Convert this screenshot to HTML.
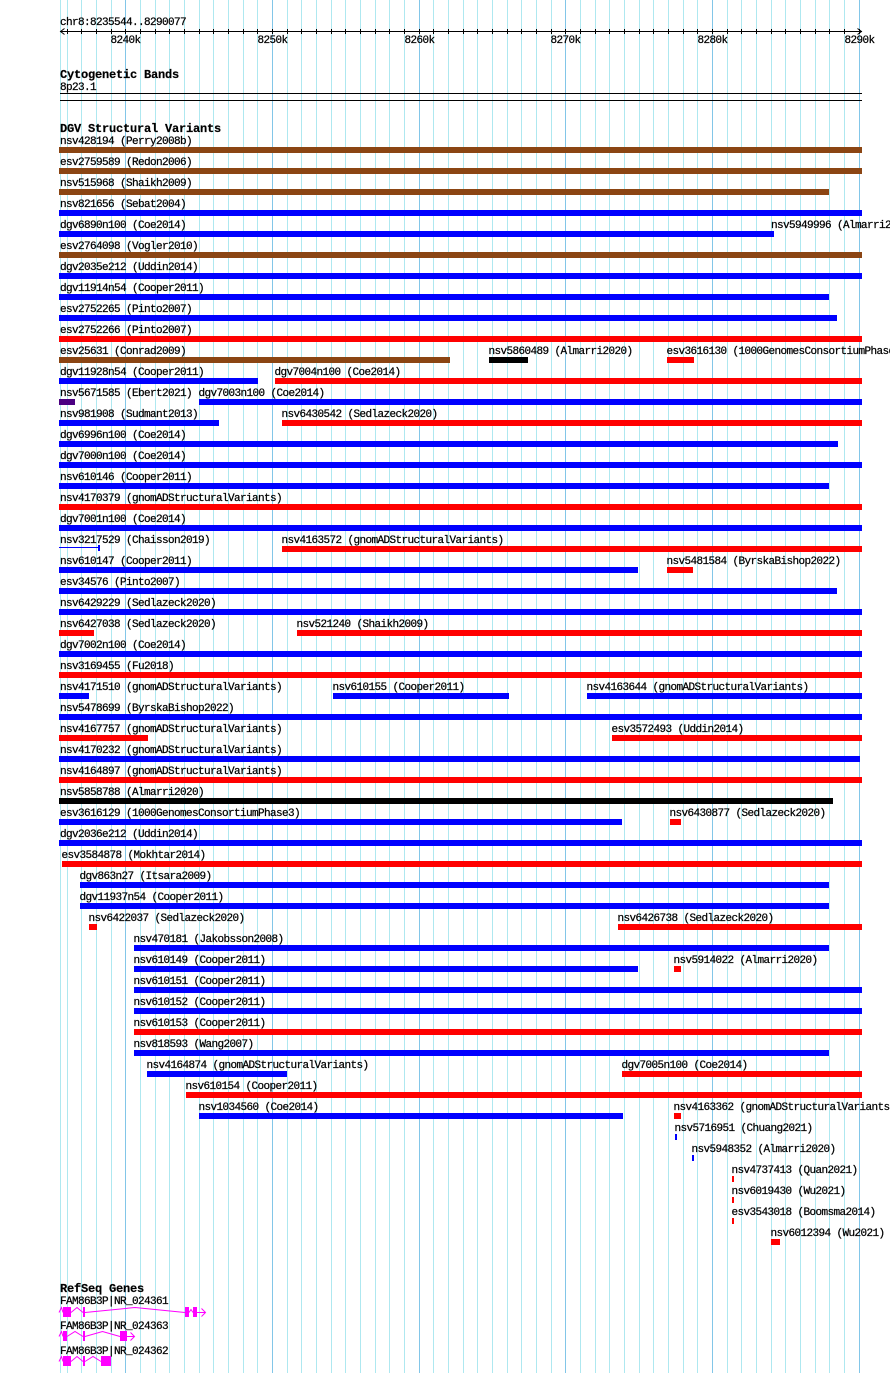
<!DOCTYPE html>
<html>
<head>
<meta charset="utf-8">
<style>
html,body{margin:0;padding:0;background:#fff;}
svg{display:block;}
.t{font-family:"Liberation Mono",monospace;font-size:11px;letter-spacing:-0.6px;fill:#000;stroke:#000;stroke-width:0.25px;}
.b{font-family:"Liberation Mono",monospace;font-size:12px;font-weight:bold;letter-spacing:-0.2px;fill:#000;stroke:#000;stroke-width:0.2px;}
</style>
</head>
<body>
<svg width="890" height="1373" viewBox="0 0 890 1373" xmlns="http://www.w3.org/2000/svg">
<rect x="0" y="0" width="890" height="1373" fill="#fff"/>
<!-- grid -->
<g shape-rendering="crispEdges" fill="#aee8f0">
<rect x="60" y="0" width="1" height="1373"/>
<rect x="67" y="0" width="1" height="1373"/>
<rect x="81" y="0" width="1" height="1373"/>
<rect x="96" y="0" width="1" height="1373"/>
<rect x="111" y="0" width="1" height="1373"/>
<rect x="140" y="0" width="1" height="1373"/>
<rect x="155" y="0" width="1" height="1373"/>
<rect x="169" y="0" width="1" height="1373"/>
<rect x="184" y="0" width="1" height="1373"/>
<rect x="199" y="0" width="1" height="1373"/>
<rect x="213" y="0" width="1" height="1373"/>
<rect x="228" y="0" width="1" height="1373"/>
<rect x="243" y="0" width="1" height="1373"/>
<rect x="257" y="0" width="1" height="1373"/>
<rect x="287" y="0" width="1" height="1373"/>
<rect x="301" y="0" width="1" height="1373"/>
<rect x="316" y="0" width="1" height="1373"/>
<rect x="331" y="0" width="1" height="1373"/>
<rect x="345" y="0" width="1" height="1373"/>
<rect x="360" y="0" width="1" height="1373"/>
<rect x="375" y="0" width="1" height="1373"/>
<rect x="389" y="0" width="1" height="1373"/>
<rect x="404" y="0" width="1" height="1373"/>
<rect x="433" y="0" width="1" height="1373"/>
<rect x="448" y="0" width="1" height="1373"/>
<rect x="463" y="0" width="1" height="1373"/>
<rect x="477" y="0" width="1" height="1373"/>
<rect x="492" y="0" width="1" height="1373"/>
<rect x="507" y="0" width="1" height="1373"/>
<rect x="521" y="0" width="1" height="1373"/>
<rect x="536" y="0" width="1" height="1373"/>
<rect x="551" y="0" width="1" height="1373"/>
<rect x="580" y="0" width="1" height="1373"/>
<rect x="595" y="0" width="1" height="1373"/>
<rect x="609" y="0" width="1" height="1373"/>
<rect x="624" y="0" width="1" height="1373"/>
<rect x="639" y="0" width="1" height="1373"/>
<rect x="653" y="0" width="1" height="1373"/>
<rect x="668" y="0" width="1" height="1373"/>
<rect x="683" y="0" width="1" height="1373"/>
<rect x="697" y="0" width="1" height="1373"/>
<rect x="727" y="0" width="1" height="1373"/>
<rect x="741" y="0" width="1" height="1373"/>
<rect x="756" y="0" width="1" height="1373"/>
<rect x="771" y="0" width="1" height="1373"/>
<rect x="785" y="0" width="1" height="1373"/>
<rect x="800" y="0" width="1" height="1373"/>
<rect x="815" y="0" width="1" height="1373"/>
<rect x="829" y="0" width="1" height="1373"/>
<rect x="844" y="0" width="1" height="1373"/>
</g>
<g shape-rendering="crispEdges" fill="#82c6e8">
<rect x="125" y="0" width="1" height="1373"/>
<rect x="272" y="0" width="1" height="1373"/>
<rect x="419" y="0" width="1" height="1373"/>
<rect x="565" y="0" width="1" height="1373"/>
<rect x="712" y="0" width="1" height="1373"/>
<rect x="859" y="0" width="1" height="1373"/>
</g>

<!-- ruler -->
<text class="t" x="60" y="25">chr8:8235544..8290077</text>
<g shape-rendering="crispEdges" fill="#000">
<rect x="60" y="31" width="802" height="1"/>
<rect x="67" y="29" width="1" height="5"/>
<rect x="81" y="29" width="1" height="5"/>
<rect x="96" y="29" width="1" height="5"/>
<rect x="111" y="29" width="1" height="5"/>
<rect x="125" y="29" width="1" height="5"/>
<rect x="140" y="29" width="1" height="5"/>
<rect x="155" y="29" width="1" height="5"/>
<rect x="169" y="29" width="1" height="5"/>
<rect x="184" y="29" width="1" height="5"/>
<rect x="199" y="29" width="1" height="5"/>
<rect x="213" y="29" width="1" height="5"/>
<rect x="228" y="29" width="1" height="5"/>
<rect x="243" y="29" width="1" height="5"/>
<rect x="257" y="29" width="1" height="5"/>
<rect x="272" y="29" width="1" height="5"/>
<rect x="287" y="29" width="1" height="5"/>
<rect x="301" y="29" width="1" height="5"/>
<rect x="316" y="29" width="1" height="5"/>
<rect x="331" y="29" width="1" height="5"/>
<rect x="345" y="29" width="1" height="5"/>
<rect x="360" y="29" width="1" height="5"/>
<rect x="375" y="29" width="1" height="5"/>
<rect x="389" y="29" width="1" height="5"/>
<rect x="404" y="29" width="1" height="5"/>
<rect x="419" y="29" width="1" height="5"/>
<rect x="433" y="29" width="1" height="5"/>
<rect x="448" y="29" width="1" height="5"/>
<rect x="463" y="29" width="1" height="5"/>
<rect x="477" y="29" width="1" height="5"/>
<rect x="492" y="29" width="1" height="5"/>
<rect x="507" y="29" width="1" height="5"/>
<rect x="521" y="29" width="1" height="5"/>
<rect x="536" y="29" width="1" height="5"/>
<rect x="551" y="29" width="1" height="5"/>
<rect x="565" y="29" width="1" height="5"/>
<rect x="580" y="29" width="1" height="5"/>
<rect x="595" y="29" width="1" height="5"/>
<rect x="609" y="29" width="1" height="5"/>
<rect x="624" y="29" width="1" height="5"/>
<rect x="639" y="29" width="1" height="5"/>
<rect x="653" y="29" width="1" height="5"/>
<rect x="668" y="29" width="1" height="5"/>
<rect x="683" y="29" width="1" height="5"/>
<rect x="697" y="29" width="1" height="5"/>
<rect x="712" y="29" width="1" height="5"/>
<rect x="727" y="29" width="1" height="5"/>
<rect x="741" y="29" width="1" height="5"/>
<rect x="756" y="29" width="1" height="5"/>
<rect x="771" y="29" width="1" height="5"/>
<rect x="785" y="29" width="1" height="5"/>
<rect x="800" y="29" width="1" height="5"/>
<rect x="815" y="29" width="1" height="5"/>
<rect x="829" y="29" width="1" height="5"/>
<rect x="844" y="29" width="1" height="5"/>
<rect x="859" y="29" width="1" height="5"/>
</g>
<polyline points="64.5,28.5 60.5,31.5 64.5,34.5" fill="none" stroke="#000" stroke-width="1"/>
<polyline points="857.5,28.5 861.5,31.5 857.5,34.5" fill="none" stroke="#000" stroke-width="1"/>
<g class="t" text-anchor="middle">
<text x="125.5" y="43">8240k</text>
<text x="272.5" y="43">8250k</text>
<text x="419.5" y="43">8260k</text>
<text x="565.5" y="43">8270k</text>
<text x="712.5" y="43">8280k</text>
<text x="859.5" y="43">8290k</text>
</g>

<!-- cytogenetic bands -->
<text class="b" x="60" y="78">Cytogenetic Bands</text>
<text class="t" x="60" y="90">8p23.1</text>
<g shape-rendering="crispEdges" fill="#000">
<rect x="60" y="93" width="802" height="1"/>
<rect x="60" y="100" width="802" height="1"/>
</g>

<!-- DGV -->
<text class="b" x="60" y="132">DGV Structural Variants</text>

<g class="t">
<text x="60" y="144">nsv428194 (Perry2008b)</text>
<text x="60" y="165">esv2759589 (Redon2006)</text>
<text x="60" y="186">nsv515968 (Shaikh2009)</text>
<text x="60" y="207">nsv821656 (Sebat2004)</text>
<text x="60" y="228">dgv6890n100 (Coe2014)</text>
<text x="771" y="228">nsv5949996 (Almarri2020)</text>
<text x="60" y="249">esv2764098 (Vogler2010)</text>
<text x="60" y="270">dgv2035e212 (Uddin2014)</text>
<text x="60" y="291">dgv11914n54 (Cooper2011)</text>
<text x="60" y="312">esv2752265 (Pinto2007)</text>
<text x="60" y="333">esv2752266 (Pinto2007)</text>
<text x="60" y="354">esv25631 (Conrad2009)</text>
<text x="488.5" y="354">nsv5860489 (Almarri2020)</text>
<text x="666.5" y="354">esv3616130 (1000GenomesConsortiumPhase3)</text>
<text x="60" y="375">dgv11928n54 (Cooper2011)</text>
<text x="274.5" y="375">dgv7004n100 (Coe2014)</text>
<text x="60" y="396">nsv5671585 (Ebert2021)</text>
<text x="198.5" y="396">dgv7003n100 (Coe2014)</text>
<text x="60" y="417">nsv981908 (Sudmant2013)</text>
<text x="281.5" y="417">nsv6430542 (Sedlazeck2020)</text>
<text x="60" y="438">dgv6996n100 (Coe2014)</text>
<text x="60" y="459">dgv7000n100 (Coe2014)</text>
<text x="60" y="480">nsv610146 (Cooper2011)</text>
<text x="60" y="501">nsv4170379 (gnomADStructuralVariants)</text>
<text x="60" y="522">dgv7001n100 (Coe2014)</text>
<text x="60" y="543">nsv3217529 (Chaisson2019)</text>
<text x="281.5" y="543">nsv4163572 (gnomADStructuralVariants)</text>
<text x="60" y="564">nsv610147 (Cooper2011)</text>
<text x="666.5" y="564">nsv5481584 (ByrskaBishop2022)</text>
<text x="60" y="585">esv34576 (Pinto2007)</text>
<text x="60" y="606">nsv6429229 (Sedlazeck2020)</text>
<text x="60" y="627">nsv6427038 (Sedlazeck2020)</text>
<text x="296.5" y="627">nsv521240 (Shaikh2009)</text>
<text x="60" y="648">dgv7002n100 (Coe2014)</text>
<text x="60" y="669">nsv3169455 (Fu2018)</text>
<text x="60" y="690">nsv4171510 (gnomADStructuralVariants)</text>
<text x="332.5" y="690">nsv610155 (Cooper2011)</text>
<text x="586.5" y="690">nsv4163644 (gnomADStructuralVariants)</text>
<text x="60" y="711">nsv5478699 (ByrskaBishop2022)</text>
<text x="60" y="732">nsv4167757 (gnomADStructuralVariants)</text>
<text x="611.5" y="732">esv3572493 (Uddin2014)</text>
<text x="60" y="753">nsv4170232 (gnomADStructuralVariants)</text>
<text x="60" y="774">nsv4164897 (gnomADStructuralVariants)</text>
<text x="60" y="795">nsv5858788 (Almarri2020)</text>
<text x="60" y="816">esv3616129 (1000GenomesConsortiumPhase3)</text>
<text x="669.5" y="816">nsv6430877 (Sedlazeck2020)</text>
<text x="60" y="837">dgv2036e212 (Uddin2014)</text>
<text x="61.5" y="858">esv3584878 (Mokhtar2014)</text>
<text x="79.5" y="879">dgv863n27 (Itsara2009)</text>
<text x="79.5" y="900">dgv11937n54 (Cooper2011)</text>
<text x="88.5" y="921">nsv6422037 (Sedlazeck2020)</text>
<text x="617.5" y="921">nsv6426738 (Sedlazeck2020)</text>
<text x="133.5" y="942">nsv470181 (Jakobsson2008)</text>
<text x="133.5" y="963">nsv610149 (Cooper2011)</text>
<text x="673.5" y="963">nsv5914022 (Almarri2020)</text>
<text x="133.5" y="984">nsv610151 (Cooper2011)</text>
<text x="133.5" y="1005">nsv610152 (Cooper2011)</text>
<text x="133.5" y="1026">nsv610153 (Cooper2011)</text>
<text x="133.5" y="1047">nsv818593 (Wang2007)</text>
<text x="146.5" y="1068">nsv4164874 (gnomADStructuralVariants)</text>
<text x="621.5" y="1068">dgv7005n100 (Coe2014)</text>
<text x="185.5" y="1089">nsv610154 (Cooper2011)</text>
<text x="198.5" y="1110">nsv1034560 (Coe2014)</text>
<text x="673.5" y="1110">nsv4163362 (gnomADStructuralVariants)</text>
<text x="674.5" y="1131">nsv5716951 (Chuang2021)</text>
<text x="691.5" y="1152">nsv5948352 (Almarri2020)</text>
<text x="731.5" y="1173">nsv4737413 (Quan2021)</text>
<text x="731.5" y="1194">nsv6019430 (Wu2021)</text>
<text x="731.5" y="1215">esv3543018 (Boomsma2014)</text>
<text x="770.5" y="1236">nsv6012394 (Wu2021)</text>
</g>

<g shape-rendering="crispEdges">
<!-- brown -->
<g fill="#8b4513">
<rect x="59" y="147" width="803" height="6"/>
<rect x="59" y="168" width="803" height="6"/>
<rect x="59" y="189" width="770" height="6"/>
<rect x="59" y="252" width="803" height="6"/>
<rect x="59" y="357" width="391" height="6"/>
</g>
<!-- blue -->
<g fill="#0000ff">
<rect x="59" y="210" width="803" height="6"/>
<rect x="59" y="231" width="715" height="6"/>
<rect x="59" y="273" width="803" height="6"/>
<rect x="59" y="294" width="770" height="6"/>
<rect x="59" y="315" width="778" height="6"/>
<rect x="59" y="378" width="199" height="6"/>
<rect x="199" y="399" width="663" height="6"/>
<rect x="59" y="420" width="160" height="6"/>
<rect x="59" y="441" width="779" height="6"/>
<rect x="59" y="462" width="803" height="6"/>
<rect x="59" y="483" width="770" height="6"/>
<rect x="59" y="525" width="803" height="6"/>
<rect x="59" y="547" width="40" height="1"/>
<rect x="98" y="545" width="2" height="6"/>
<rect x="59" y="567" width="579" height="6"/>
<rect x="59" y="588" width="778" height="6"/>
<rect x="59" y="609" width="803" height="6"/>
<rect x="59" y="651" width="803" height="6"/>
<rect x="59" y="693" width="30" height="6"/>
<rect x="333" y="693" width="176" height="6"/>
<rect x="587" y="693" width="275" height="6"/>
<rect x="59" y="714" width="803" height="6"/>
<rect x="59" y="756" width="801" height="6"/>
<rect x="59" y="819" width="563" height="6"/>
<rect x="59" y="840" width="803" height="6"/>
<rect x="80" y="882" width="749" height="6"/>
<rect x="80" y="903" width="749" height="6"/>
<rect x="134" y="945" width="695" height="6"/>
<rect x="134" y="966" width="504" height="6"/>
<rect x="134" y="987" width="728" height="6"/>
<rect x="134" y="1008" width="728" height="6"/>
<rect x="134" y="1050" width="695" height="6"/>
<rect x="147" y="1071" width="140" height="6"/>
<rect x="199" y="1113" width="424" height="6"/>
<rect x="675" y="1134" width="2" height="6"/>
<rect x="692" y="1155" width="2" height="6"/>
</g>
<!-- red -->
<g fill="#ff0000">
<rect x="59" y="336" width="803" height="6"/>
<rect x="667" y="357" width="27" height="6"/>
<rect x="275" y="378" width="587" height="6"/>
<rect x="282" y="420" width="580" height="6"/>
<rect x="59" y="504" width="803" height="6"/>
<rect x="282" y="546" width="580" height="6"/>
<rect x="667" y="567" width="26" height="6"/>
<rect x="59" y="630" width="35" height="6"/>
<rect x="297" y="630" width="565" height="6"/>
<rect x="59" y="672" width="803" height="6"/>
<rect x="59" y="735" width="89" height="6"/>
<rect x="612" y="735" width="250" height="6"/>
<rect x="59" y="777" width="803" height="6"/>
<rect x="670" y="819" width="11" height="6"/>
<rect x="62" y="861" width="800" height="6"/>
<rect x="89" y="924" width="8" height="6"/>
<rect x="618" y="924" width="244" height="6"/>
<rect x="674" y="966" width="7" height="6"/>
<rect x="134" y="1029" width="728" height="6"/>
<rect x="622" y="1071" width="240" height="6"/>
<rect x="186" y="1092" width="676" height="6"/>
<rect x="674" y="1113" width="7" height="6"/>
<rect x="732" y="1176" width="2" height="6"/>
<rect x="732" y="1197" width="2" height="6"/>
<rect x="732" y="1218" width="2" height="6"/>
<rect x="771" y="1239" width="9" height="6"/>
</g>
<!-- black / purple -->
<rect x="489" y="357" width="39" height="6" fill="#000"/>
<rect x="59" y="798" width="774" height="6" fill="#000"/>
<rect x="59" y="399" width="16" height="6" fill="#4b0082"/>
</g>

<!-- RefSeq Genes -->
<text class="b" x="60" y="1292">RefSeq Genes</text>
<g class="t">
<text x="60" y="1304">FAM86B3P|NR_024361</text>
<text x="60" y="1329">FAM86B3P|NR_024363</text>
<text x="60" y="1354">FAM86B3P|NR_024362</text>
</g>
<g fill="none" stroke="#ff00ff" stroke-width="1">
<polyline points="59,1312.5 61.5,1307.5 63,1312.5"/>
<polyline points="71,1312.5 77,1307.5 83,1312.5"/>
<polyline points="85,1312.5 135,1307.5 185,1312.5"/>
<polyline points="189,1312.5 191,1309.5 193,1312.5"/>
<line x1="197" y1="1312.5" x2="205" y2="1312.5"/>
<polyline points="201.5,1308.5 205.5,1312.5 201.5,1316.5"/>
<polyline points="59,1336.5 61.5,1331.5 63,1336.5"/>
<polyline points="67,1336.5 75,1331.5 83,1336.5"/>
<polyline points="85,1336.5 102.5,1331.5 120,1336.5"/>
<line x1="127" y1="1336.5" x2="134" y2="1336.5"/>
<polyline points="130.5,1332.5 134.5,1336.5 130.5,1340.5"/>
<polyline points="59,1361.5 61.5,1356.5 63,1361.5"/>
<polyline points="71,1361.5 77,1356.5 83,1361.5"/>
<polyline points="85,1361.5 93,1356.5 101,1361.5"/>
</g>
<g fill="#ff00ff" shape-rendering="crispEdges">
<rect x="63" y="1307" width="8" height="10"/>
<rect x="83" y="1307" width="2" height="10"/>
<rect x="185" y="1307" width="4" height="10"/>
<rect x="193" y="1307" width="4" height="10"/>
<rect x="63" y="1331" width="4" height="10"/>
<rect x="83" y="1331" width="2" height="10"/>
<rect x="120" y="1331" width="7" height="10"/>
<rect x="63" y="1356" width="8" height="10"/>
<rect x="83" y="1356" width="2" height="10"/>
<rect x="101" y="1356" width="10" height="10"/>
</g>
</svg>
</body>
</html>
